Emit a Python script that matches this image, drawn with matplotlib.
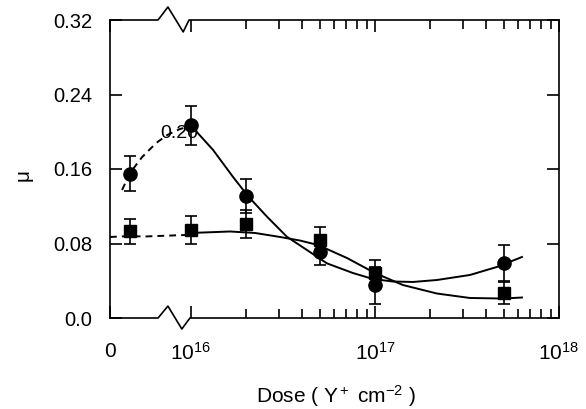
import matplotlib
matplotlib.use("Agg")
import matplotlib.pyplot as plt
from matplotlib.ticker import FixedLocator, FixedFormatter, NullFormatter

plt.rcParams["font.family"] = ["Liberation Sans", "DejaVu Sans"]
plt.rcParams["mathtext.fontset"] = "custom"
plt.rcParams["mathtext.rm"] = "Liberation Sans"
plt.rcParams["mathtext.it"] = "Liberation Sans:italic"
plt.rcParams["mathtext.bf"] = "Liberation Sans:bold"

# measured friction coefficients vs ion dose (Y+ / cm2)
dose = [0, 1e16, 2e16, 5e16, 1e17, 5e17]
mu_circle = [0.155, 0.207, 0.131, 0.071, 0.035, 0.059]
err_circle = [0.019, 0.021, 0.018, 0.014, 0.020, 0.019]
mu_square = [0.093, 0.095, 0.101, 0.084, 0.048, 0.027]
err_square = [0.013, 0.015, 0.015, 0.014, 0.014, 0.012]

# guide lines as drawn in the figure
circ_dash_x = [-1.3e15, 0, 2e15, 4.3e15, 6.1e15, 8.2e15, 1e16]
circ_dash_y = [0.1375, 0.1557, 0.1729, 0.1879, 0.1965, 0.2029, 0.2062]
sq_dash_x = [-3.28e15, 0, 2.3e15, 9e15, 1e16]
sq_dash_y = [0.0870, 0.0880, 0.0875, 0.0891, 0.0913]

circ_fit_x = [1e16, 1.32e16, 1.69e16, 2.04e16, 2.59e16, 3.32e16, 4.27e16, 5.48e16,
              7.59e16, 9.75e16, 1.25e17, 1.61e17, 2.17e17, 3.28e17, 4.6e17, 6.29e17]
circ_fit_y = [0.2067, 0.1804, 0.1517, 0.1310, 0.1088, 0.0873, 0.0730, 0.0587,
              0.0483, 0.0419, 0.0392, 0.0387, 0.0408, 0.0462, 0.0548, 0.0655]
sq_fit_x = [1e16, 1.63e16, 2.23e16, 3.05e16, 3.91e16, 4.9e16, 7.05e16, 1e17,
            1.42e17, 2.17e17, 3.28e17, 4.96e17, 6.29e17]
sq_fit_y = [0.0913, 0.0929, 0.0913, 0.0870, 0.0832, 0.0784, 0.0644, 0.0483,
            0.0354, 0.0263, 0.0215, 0.0209, 0.0220]

x_left = -3.28e15
x_major = [x_left, 1e16, 1e17, 1e18]
x_labels = ["0", "$10^{16}$", "$10^{17}$", "$10^{18}$"]
x_minor = [k * 10.0 ** e for e in (16, 17) for k in range(2, 10)]
y_ticks = [0.0, 0.08, 0.16, 0.24, 0.32]
y_labels = ["0.0", "0.08", "0.16", "0.24", "0.32"]

fig = plt.figure(figsize=(5.86, 4.09), dpi=100)
ax = fig.add_axes([110 / 586, 91 / 409, 449 / 586, 298 / 409])
ax.set_xscale("symlog", linthresh=1e16, linscale=0.298)
ax.set_xlim(x_left, 1e18)
ax.set_ylim(0, 0.32)

lw = 1.4
dash = (0, (3.5, 2.6))
ax.plot(circ_dash_x, circ_dash_y, color="black", lw=lw, ls=dash)
ax.plot(sq_dash_x, sq_dash_y, color="black", lw=lw, ls=dash, clip_on=False)
ax.plot(circ_fit_x, circ_fit_y, color="black", lw=lw)
ax.plot(sq_fit_x, sq_fit_y, color="black", lw=lw)

ax.errorbar(dose, mu_circle, yerr=err_circle, fmt="o", color="black", ms=9.5,
            capsize=4.3, elinewidth=1.2, capthick=1.2, zorder=3)
ax.errorbar(dose, mu_square, yerr=err_square, fmt="s", color="black", ms=9,
            capsize=4.3, elinewidth=1.2, capthick=1.2, zorder=3)

ax.text(0.154, 0.618, "0.20", transform=ax.transAxes, ha="center", va="center",
        fontsize=14)

# broken top / bottom spines with the zigzag marks
sw = 1.2
ax.spines["top"].set_visible(False)
ax.spines["bottom"].set_visible(False)
for s in ("left", "right"):
    ax.spines[s].set_linewidth(sw)
ax.plot([0, 0.107, 0.129, 0.163, 0.176, 1], [1, 1, 1.0436, 0.96, 1, 1],
        transform=ax.transAxes, clip_on=False, color="black", lw=sw)
ax.plot([0, 0.107, 0.129, 0.160, 0.178, 1], [0, 0, 0.040, -0.037, 0, 0],
        transform=ax.transAxes, clip_on=False, color="black", lw=sw)

ax.xaxis.set_major_locator(FixedLocator(x_major))
ax.xaxis.set_major_formatter(FixedFormatter(x_labels))
ax.xaxis.set_minor_locator(FixedLocator(x_minor))
ax.xaxis.set_minor_formatter(NullFormatter())
ax.set_yticks(y_ticks)
ax.set_yticklabels(y_labels)

ax.tick_params(which="both", direction="in", top=True, right=True, width=sw)
ax.tick_params(which="major", length=8.5)
ax.tick_params(which="minor", length=6.5)
ax.tick_params(axis="x", which="major", pad=17, labelsize=15)
ax.tick_params(axis="y", pad=13, labelsize=14.5)

ax.set_xlabel("Dose ( Y$^+$ cm$^{-2}$ )", fontsize=15)
ax.xaxis.set_label_coords(0.503, -0.22)
ax.set_ylabel("μ", fontsize=15)
ax.yaxis.set_label_coords(-0.172, 0.48)

fig.savefig("out.png", dpi=100)
